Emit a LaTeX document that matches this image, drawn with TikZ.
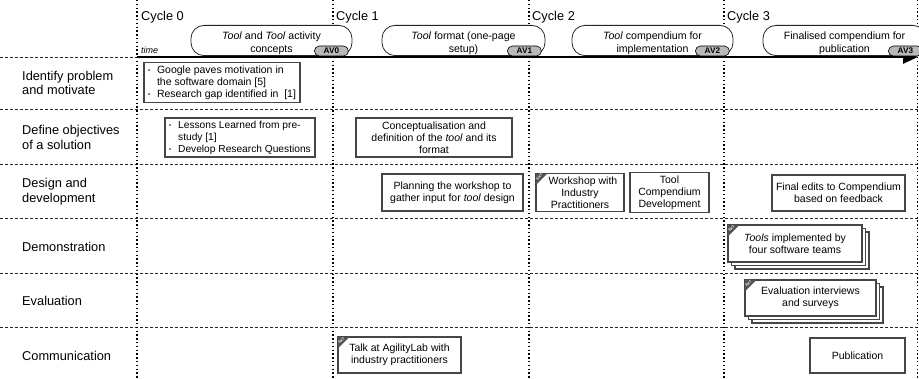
\documentclass[tikz,border=0pt]{standalone}
\usepackage{fontspec}
\setmainfont{Liberation Sans}
\usetikzlibrary{arrows.meta,calc}
\newcommand\bul{\makebox[9pt][l]{\raisebox{0.9pt}{\fontsize{6}{6}\selectfont\textbullet}}}
\newcommand\topstrut{\rule{0pt}{13.5pt}}
\newcommand\extmark[1]{%
 \fill[gray!65!black] ($(#1.north west)+(1,1)$) -- ++(11,0) -- ++(-11,11) -- cycle;
 \node[rotate=45, font=\fontsize{3.6}{3.6}\selectfont\bfseries, text=white, inner sep=0] (#1-ext) at ($(#1.north west)+(4.3,4.3)$) {EXT};}
\tikzset{
  rowlabel/.style={anchor=west, align=left, inner sep=0, font=\fontsize{12.8}{14.8}\selectfont},
  cyclelabel/.style={anchor=west, inner sep=0, font=\fontsize{12.8}{14.8}\selectfont},
  box/.style={draw=gray!55!black, line width=1.6pt, fill=white, align=center, inner sep=3pt,
              font=\fontsize{10.5}{12.2}\selectfont},
  backbox/.style={draw=gray!55!black, line width=1.2pt, fill=white, inner sep=0},
  bubble/.style={draw=gray!30!black, line width=0.8pt, fill=white, rounded corners=13pt,
              minimum height=27pt, minimum width=161pt, align=center, inner sep=1pt,
              font=\fontsize{10.6}{12.5}\selectfont},
  badge/.style={draw=black, line width=0.6pt, fill=gray!55, rounded corners=5pt,
              minimum width=34pt, minimum height=10pt, inner sep=0,
              font=\fontsize{8.2}{8.4}\selectfont\bfseries},
  vline/.style={line width=1.3pt, dash pattern=on 1.4pt off 2.4pt},
  hline/.style={line width=0.8pt, draw=gray!30!black, dash pattern=on 3pt off 2pt},
}
\begin{document}
\begin{tikzpicture}[x=1pt,y=-1pt]
\useasboundingbox (0,0) rectangle (919,379);
% grid
\foreach \yy in {109,164,218,273,327} \draw[hline] (0,\yy) -- (919,\yy);
\draw[hline] (0,57) -- (137,57);
\foreach \xx in {137,333,529,724,917.5} \draw[vline] (\xx,0) -- (\xx,379);
% time arrow
\coordinate (tstart) at (137,57);
\coordinate (tend) at (918,57);
\draw[line width=2.8pt, -{Triangle[length=15pt,width=13pt]}] (tstart) -- (tend);
% cycle labels
\node[cyclelabel] (cy0) at (141,17) {Cycle 0};
\node[cyclelabel] (cy1) at (336,17) {Cycle 1};
\node[cyclelabel] (cy2) at (532,17) {Cycle 2};
\node[cyclelabel] (cy3) at (727,17) {Cycle 3};
\node[anchor=west, inner sep=0, font=\fontsize{9}{10}\selectfont\itshape] (time) at (141,50) {time};
% row labels
\node[rowlabel] (r1) at (22,83) {Identify problem\\and motivate};
\node[rowlabel] (r2) at (22,137.5) {Define objectives\\of a solution};
\node[rowlabel] (r3) at (22,192) {Design and\\development};
\node[rowlabel] (r4) at (22,246.5) {Demonstration};
\node[rowlabel] (r5) at (22,301) {Evaluation};
\node[rowlabel] (r6) at (22,356) {Communication};
% AV bubbles
\node[bubble] (b0) at (271.5,40.5) {\topstrut\textit{Tool} and \textit{Tool} activity\\concepts};
\node[badge] (av0) at ($(b0.south east)+(-21,-5)$) {AV0};
\node[bubble, minimum width=163pt] (b1) at (463.5,40.5) {\topstrut\textit{Tool} format (one-page\\setup)};
\node[badge] (av1) at ($(b1.south east)+(-21,-5)$) {AV1};
\node[bubble] (b2) at (652.5,40.5) {\topstrut\textit{Tool} compendium for\\implementation};
\node[badge] (av2) at ($(b2.south east)+(-21,-5)$) {AV2};
\node[bubble, minimum width=163pt] (b3) at (844.5,40.5) {\topstrut Finalised compendium for\\publication};
\node[badge] (av3) at ($(b3.south east)+(-21,-5)$) {AV3};
% row 1
\node[box, align=left, minimum width=156pt, minimum height=39pt] (m1) at (222,82.5)
  {\bul Google paves motivation in\\\hspace*{9pt}the software domain [5]\\\bul Research gap identified in~~[1]};
% row 2
\node[box, align=left, minimum width=150pt, minimum height=37pt, font=\fontsize{10.2}{12}\selectfont] (m2) at (240,137.5)
  {\bul Lessons Learned from pre-\\\hspace*{9pt}study [1]\\\bul Develop Research Questions};
\node[box, minimum width=156pt, minimum height=39pt] (c1) at (434,137.5)
  {Conceptualisation and\\definition of the \textit{tool} and its\\format};
% row 3
\node[box, minimum width=141pt, minimum height=37pt] (d1) at (452.5,192.5)
  {Planning the workshop to\\gather input for \textit{tool} design};
\node[box, minimum width=88pt, minimum height=37pt] (d2) at (580,192.5)
  {\hspace*{6pt}Workshop with\\Industry\\Practitioners};
\extmark{d2}
\node[box, minimum width=79pt, minimum height=35pt] (d3) at (669.5,192.5)
  {Tool\\Compendium\\Development};
\node[box, minimum width=133pt, minimum height=36pt] (d4) at (838.5,193)
  {Final edits to Compendium\\based on feedback};
% row 4 (stacked)
\node[backbox, minimum width=134pt, minimum height=37pt] (e1c) at (802,250.5) {};
\node[backbox, minimum width=134pt, minimum height=37pt] (e1b) at (798.5,247) {};
\node[box, minimum width=134pt, minimum height=37pt] (e1) at (795,243.5)
  {\textit{Tools} implemented by\\four software teams};
\extmark{e1}
% row 5 (stacked)
\node[backbox, minimum width=131pt, minimum height=36pt] (f1c) at (817.5,305) {};
\node[backbox, minimum width=131pt, minimum height=36pt] (f1b) at (814,301.5) {};
\node[box, minimum width=131pt, minimum height=36pt] (f1) at (810.5,298)
  {Evaluation interviews\\and surveys};
\extmark{f1}
% row 6
\node[box, minimum width=123pt, minimum height=36pt] (g1) at (399.5,355)
  {Talk at AgilityLab with\\industry practitioners};
\extmark{g1}
\node[box, minimum width=95pt, minimum height=35pt] (g2) at (857.5,355.5) {Publication};
\end{tikzpicture}
\end{document}
